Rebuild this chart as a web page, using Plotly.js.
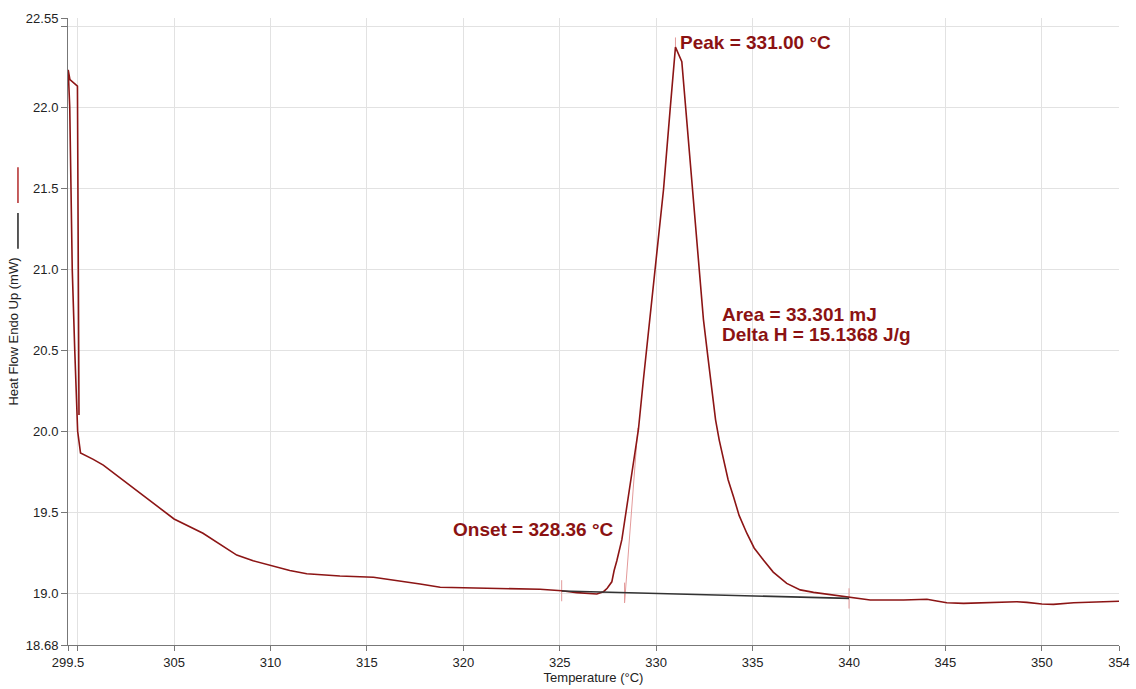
<!DOCTYPE html>
<html>
<head>
<meta charset="utf-8">
<script src="https://cdn.plot.ly/plotly-3.0.1.min.js"></script>
<style>html,body{margin:0;padding:0;background:#fff}#chart{width:1136px;height:689px}</style>
</head>
<body>
<div id="chart"></div>
<script>
// ---- data ----
const temperature = [300.07, 300.04, 299.99, 299.6, 299.51, 299.59, 299.64, 299.72, 299.85, 300.0, 300.15,
  300.81, 301.33, 302.8, 304.1, 305.0, 306.5, 307.4, 308.25, 309.1, 309.98, 311.0, 311.88, 313.6, 315.34,
  316.72, 317.76, 318.8, 320.18, 322.25, 323.98, 325.1, 325.88, 326.92, 327.27, 327.46, 327.7, 327.82,
  327.96, 328.22, 328.48, 328.82, 329.08, 329.34, 329.65, 329.95, 330.38, 330.72, 331.0, 331.33, 331.9,
  332.45, 332.68, 332.88, 333.08, 333.27, 333.49, 333.73, 334.01, 334.3, 334.7, 335.08, 335.56, 336.07,
  336.77, 337.47, 338.16, 339.89, 341.1, 342.83, 344.04, 344.47, 345.07, 345.94, 347.15, 348.7,
  349.22, 350.0, 350.6, 351.65, 353.2, 354.0];
const heatFlow = [20.1, 21.0, 22.13, 22.17, 22.23, 22.0, 21.5, 21.0, 20.5, 20.0, 19.865,
  19.826, 19.79, 19.657, 19.54, 19.458, 19.37, 19.30, 19.235, 19.20, 19.17, 19.14, 19.12, 19.106, 19.098,
  19.077, 19.057, 19.036, 19.034, 19.03, 19.024, 19.015, 19.003, 18.995, 19.009, 19.03, 19.07, 19.14,
  19.20, 19.33, 19.53, 19.78, 20.01, 20.32, 20.66, 20.995, 21.49, 21.98, 22.37, 22.28, 21.49,
  20.69, 20.46, 20.254, 20.07, 19.945, 19.82, 19.70, 19.595, 19.48, 19.37, 19.279, 19.205, 19.13,
  19.06, 19.02, 19.005, 18.975, 18.958, 18.958, 18.962, 18.953, 18.941, 18.937, 18.941, 18.947,
  18.943, 18.933, 18.931, 18.941, 18.947, 18.95];

const baselineT = [325.1, 340.0];
const baselineV = [19.013, 18.968];

const onsetT = 328.36;
const peakT = 331.0;
const tangentT = [328.36, 329.05];
const tangentV = [18.94, 20.02];

// limit marks (temperature, low, high)
const markT = [325.1, 328.36, 340.0];
const markLow = [18.95, 18.94, 18.905];
const markHigh = [19.08, 19.065, 19.03];
const peakMarkV = [22.37, 22.43];

const xRange = [299.5, 354];
const yRange = [18.68, 22.55];
const xGrid = [300, 305, 310, 315, 320, 325, 330, 335, 340, 345, 350];
const xLabelVals = [299.5, 305, 310, 315, 320, 325, 330, 335, 340, 345, 350, 354];
const xLabelText = ["299.5", "305", "310", "315", "320", "325", "330", "335", "340", "345", "350", "354"];
const yGrid = [19.0, 19.5, 20.0, 20.5, 21.0, 21.5, 22.0, 22.5];
const yLabelVals = [18.68, 19.0, 19.5, 20.0, 20.5, 21.0, 21.5, 22.0, 22.55];
const yLabelText = ["18.68", "19.0", "19.5", "20.0", "20.5", "21.0", "21.5", "22.0", "22.55"];

const peakText = "Peak = 331.00 °C";
const onsetText = "Onset = 328.36 °C";
const areaText = "Area = 33.301 mJ";
const deltaText = "Delta H = 15.1368 J/g";
const peakLabelV = 22.396;
const areaPos = [333.5, 20.72];
const deltaPos = [333.5, 20.595];
const onsetLabelV = 19.39;

// ---- build ----
const curveColor = "#8c1515";
const pink = "#e39a9a";
const textRed = "#8b1212";

const markX = [], markY = [];
markT.forEach((t, i) => { markX.push(t, t, null); markY.push(markLow[i], markHigh[i], null); });
markX.push(peakT, peakT); markY.push(peakMarkV[0], peakMarkV[1]);

const traces = [
  {x: markX, y: markY, mode: "lines", line: {color: pink, width: 1}, hoverinfo: "skip", showlegend: false},
  {x: tangentT, y: tangentV, mode: "lines", line: {color: pink, width: 1}, hoverinfo: "skip", showlegend: false},
  {x: baselineT, y: baselineV, mode: "lines", line: {color: "#333333", width: 1.6}, showlegend: false,
   xaxis: "x2", yaxis: "y2"},
  {x: temperature, y: heatFlow, mode: "lines", line: {color: curveColor, width: 1.6}, showlegend: false}
];

const tickFont = {family: "Liberation Sans, Arial, sans-serif", size: 13, color: "#222"};
const annFont = {family: "Liberation Sans, Arial, sans-serif", size: 19, color: textRed};

const layout = {
  width: 1136, height: 689,
  margin: {l: 68, r: 17, t: 18, b: 44},
  paper_bgcolor: "#fff", plot_bgcolor: "#fff",
  showlegend: false,
  xaxis: {
    range: xRange, tickmode: "array", tickvals: xGrid, showticklabels: false,
    ticks: "outside", ticklen: 5, tickcolor: "#777", showgrid: true, gridcolor: "#e2e2e2", gridwidth: 1,
    showline: true, linecolor: "#777", linewidth: 1, zeroline: false, fixedrange: true
  },
  yaxis: {
    range: yRange, tickmode: "array", tickvals: yGrid, showticklabels: false,
    ticks: "outside", ticklen: 6, tickcolor: "#777", showgrid: true, gridcolor: "#e2e2e2", gridwidth: 1,
    showline: true, linecolor: "#777", linewidth: 1, zeroline: false, fixedrange: true
  },
  xaxis2: {
    overlaying: "x", anchor: "y", side: "bottom", range: xRange,
    tickmode: "array", tickvals: xLabelVals, ticktext: xLabelText, tickfont: tickFont,
    ticks: "outside", ticklen: 5, tickcolor: "#777", showgrid: false, showline: false, zeroline: false,
    title: {text: "Temperature (°C)", font: tickFont, standoff: 2}, automargin: false
  },
  yaxis2: {
    overlaying: "y", anchor: "x", side: "left", range: yRange,
    tickmode: "array", tickvals: yLabelVals, ticktext: yLabelText, tickfont: tickFont,
    ticks: "outside", ticklen: 6, tickcolor: "#777", showgrid: false, showline: false, zeroline: false,
    title: {text: "Heat Flow Endo Up (mW)", font: tickFont, standoff: 4}, automargin: false
  },
  shapes: [
    {type: "line", xref: "paper", yref: "paper", x0: -0.0476, x1: -0.0476, y0: 0.705, y1: 0.762,
     line: {color: "#b22a2a", width: 1.5}},
    {type: "line", xref: "paper", yref: "paper", x0: -0.0476, x1: -0.0476, y0: 0.632, y1: 0.689,
     line: {color: "#222", width: 1.5}}
  ],
  annotations: [
    {x: peakT, y: peakLabelV, xref: "x", yref: "y", text: "<b>" + peakText + "</b>", showarrow: false,
     xanchor: "left", yanchor: "middle", xshift: 3, font: annFont},
    {x: onsetT, y: onsetLabelV, xref: "x", yref: "y", text: "<b>" + onsetText + "</b>", showarrow: false,
     xanchor: "right", yanchor: "middle", xshift: -10, font: annFont},
    {x: areaPos[0], y: areaPos[1], xref: "x", yref: "y", text: "<b>" + areaText + "</b>", showarrow: false,
     xanchor: "left", yanchor: "middle", xshift: -3, font: annFont, borderpad: 0},
    {x: deltaPos[0], y: deltaPos[1], xref: "x", yref: "y", text: "<b>" + deltaText + "</b>", showarrow: false,
     xanchor: "left", yanchor: "middle", xshift: -3, font: annFont, borderpad: 0}
  ]
};

Plotly.newPlot("chart", traces, layout, {displayModeBar: false, staticPlot: true});
</script>
</body>
</html>
